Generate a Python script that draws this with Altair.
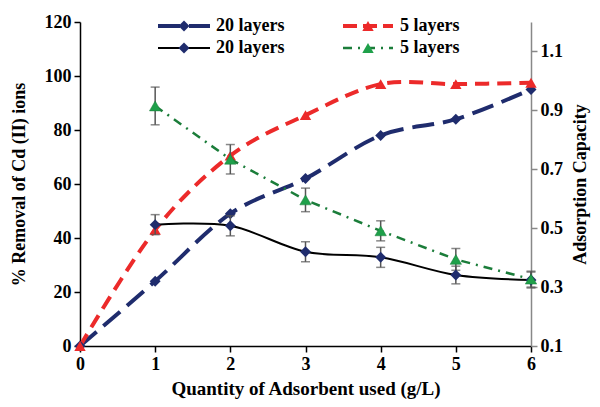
import altair as alt
import pandas as pd

# ---- data ----
x_all = [0, 1, 2, 3, 4, 5, 6]
removal_20 = [0, 24, 49, 62, 78, 84, 95]          # % removal, 20 layers (left axis)
removal_5 = [0, 43, 70.5, 85.5, 97, 97, 97.5]     # % removal, 5 layers (left axis)

x_cap = [1, 2, 3, 4, 5, 6]
cap_20 = [0.512, 0.508, 0.42, 0.401, 0.341, 0.324]   # adsorption capacity, 20 layers (right axis)
err_20 = [0.034, 0.034, 0.034, 0.034, 0.03, 0.027]
cap_5 = [0.915, 0.734, 0.596, 0.491, 0.394, 0.327]  # adsorption capacity, 5 layers (right axis)
err_5 = [0.064, 0.05, 0.04, 0.034, 0.037, 0.027]

left_ticks = [0, 20, 40, 60, 80, 100, 120]
right_ticks = [0.1, 0.3, 0.5, 0.7, 0.9, 1.1]
x_ticks = [0, 1, 2, 3, 4, 5, 6]
legend_labels = ["20 layers", "20 layers", "5 layers", "5 layers"]

NAVY = "#1f2c6d"
RED = "#ec2a2a"
GREEN_LINE = "#1b7d3a"
GREEN_FILL = "#1fa04a"
ERR = "#555555"
FONT = "Liberation Serif"

df_left = pd.DataFrame({"x": x_all, "r20": removal_20, "r5": removal_5})
df_right = pd.DataFrame({
    "x": x_cap,
    "c20": cap_20, "c20lo": [v - e for v, e in zip(cap_20, err_20)], "c20hi": [v + e for v, e in zip(cap_20, err_20)],
    "c5": cap_5, "c5lo": [v - e for v, e in zip(cap_5, err_5)], "c5hi": [v + e for v, e in zip(cap_5, err_5)],
})

xscale = alt.Scale(domain=[0, 6], nice=False)
xenc = alt.X("x:Q", scale=xscale,
             axis=alt.Axis(values=x_ticks, title="Quantity of Adsorbent used (g/L)", format="d",
                           titlePadding=6, labelFlush=False))

yleft_scale = alt.Scale(domain=[0, 120], nice=False)
yleft_axis = alt.Axis(values=left_ticks, title="% Removal of Cd (II) ions", titlePadding=16)


def YL(f, first=False):
    if first:
        return alt.Y(f + ":Q", scale=yleft_scale, axis=yleft_axis)
    return alt.Y(f + ":Q", scale=yleft_scale)


base_l = alt.Chart(df_left)
navy_line = base_l.mark_line(color=NAVY, strokeWidth=4, strokeDash=[22, 9], interpolate="cardinal").encode(
    x=xenc, y=YL("r20", True))
navy_pts = base_l.mark_point(shape="diamond", filled=True, color=NAVY, size=120, opacity=1).encode(
    x=alt.X("x:Q", scale=xscale), y=YL("r20"))
red_line = base_l.mark_line(color=RED, strokeWidth=4, strokeDash=[14, 8], interpolate="cardinal").encode(
    x=alt.X("x:Q", scale=xscale), y=YL("r5"))
red_pts = base_l.mark_point(shape="triangle-up", filled=True, color=RED, size=130, opacity=1).encode(
    x=alt.X("x:Q", scale=xscale), y=YL("r5"))
left = alt.layer(navy_line, red_line, navy_pts, red_pts)

yright_scale = alt.Scale(domain=[0.1, 1.2], nice=False, zero=False)
yright_axis = alt.Axis(values=right_ticks, format=".1f", title="Adsorption Capacity", orient="right",
                       domainColor="#888888", tickColor="#888888", titleAngle=270, titlePadding=27)


def YR(f, first=False):
    if first:
        return alt.Y(f + ":Q", scale=yright_scale, axis=yright_axis)
    return alt.Y(f + ":Q", scale=yright_scale)


XR = alt.X("x:Q", scale=xscale)
base_r = alt.Chart(df_right)
black_line = base_r.mark_line(color="black", strokeWidth=2, interpolate="cardinal").encode(
    x=XR, y=YR("c20", True))
green_line = base_r.mark_line(color=GREEN_LINE, strokeWidth=2.5, strokeDash=[9, 6, 2, 6]).encode(
    x=XR, y=YR("c5"))
err20 = base_r.mark_rule(color=ERR, strokeWidth=1.5).encode(x=XR, y=YR("c20lo"), y2="c20hi:Q")
err20lo = base_r.mark_tick(color=ERR, orient="horizontal", size=9, thickness=1.5).encode(x=XR, y=YR("c20lo"))
err20hi = base_r.mark_tick(color=ERR, orient="horizontal", size=9, thickness=1.5).encode(x=XR, y=YR("c20hi"))
err5 = base_r.mark_rule(color=ERR, strokeWidth=1.5).encode(x=XR, y=YR("c5lo"), y2="c5hi:Q")
err5lo = base_r.mark_tick(color=ERR, orient="horizontal", size=9, thickness=1.5).encode(x=XR, y=YR("c5lo"))
err5hi = base_r.mark_tick(color=ERR, orient="horizontal", size=9, thickness=1.5).encode(x=XR, y=YR("c5hi"))
black_pts = base_r.mark_point(shape="diamond", filled=True, color=NAVY, size=120, opacity=1).encode(
    x=XR, y=YR("c20"))
green_pts = base_r.mark_point(shape="triangle-up", filled=True, color=GREEN_FILL, size=130, opacity=1,
                              stroke=GREEN_LINE, strokeWidth=0.5).encode(x=XR, y=YR("c5"))

# ---- manual legend (pixel positions inside the plot area) ----
one = pd.DataFrame({"k": [0]})
lb = alt.Chart(one)
leg_navy = lb.mark_rule(color=NAVY, strokeWidth=4, strokeDash=[22, 9]).encode(
    x=alt.value(78), x2=alt.value(130), y=alt.value(4))
leg_navy_pt = lb.mark_point(shape="diamond", filled=True, color=NAVY, size=120, opacity=1).encode(
    x=alt.value(104), y=alt.value(4))
leg_black = lb.mark_rule(color="black", strokeWidth=2).encode(
    x=alt.value(78), x2=alt.value(130), y=alt.value(26))
leg_black_pt = lb.mark_point(shape="diamond", filled=True, color=NAVY, size=120, opacity=1).encode(
    x=alt.value(104), y=alt.value(26))
leg_red = lb.mark_rule(color=RED, strokeWidth=4, strokeDash=[14, 6]).encode(
    x=alt.value(263), x2=alt.value(313), y=alt.value(4))
leg_red_pt = lb.mark_point(shape="triangle-up", filled=True, color=RED, size=130, opacity=1).encode(
    x=alt.value(288), y=alt.value(4))
leg_green = lb.mark_rule(color=GREEN_LINE, strokeWidth=2.5, strokeDash=[9, 6, 2, 6]).encode(
    x=alt.value(263), x2=alt.value(313), y=alt.value(26))
leg_green_pt = lb.mark_point(shape="triangle-up", filled=True, color=GREEN_FILL, size=130, opacity=1).encode(
    x=alt.value(288), y=alt.value(26))

txt_kw = dict(align="left", baseline="middle", font=FONT, fontWeight="bold", fontSize=18, color="black")
leg_t1 = lb.mark_text(**txt_kw).encode(x=alt.value(136), y=alt.value(4), text=alt.value(legend_labels[0]))
leg_t2 = lb.mark_text(**txt_kw).encode(x=alt.value(136), y=alt.value(26), text=alt.value(legend_labels[1]))
leg_t3 = lb.mark_text(**txt_kw).encode(x=alt.value(320), y=alt.value(4), text=alt.value(legend_labels[2]))
leg_t4 = lb.mark_text(**txt_kw).encode(x=alt.value(320), y=alt.value(26), text=alt.value(legend_labels[3]))

right = alt.layer(err20, err20lo, err20hi, err5, err5lo, err5hi, black_line, green_line, black_pts, green_pts,
                  leg_navy, leg_navy_pt, leg_black, leg_black_pt, leg_red, leg_red_pt, leg_green, leg_green_pt,
                  leg_t1, leg_t2, leg_t3, leg_t4)

chart = alt.layer(left, right).resolve_scale(y="independent").properties(
    width=451, height=324,
    autosize=alt.AutoSizeParams(type="none"),
    padding={"left": 72, "top": 14, "right": 60, "bottom": 53},
).configure_view(stroke=None).configure_axis(
    grid=False, labelFont=FONT, labelFontWeight="bold", labelFontSize=18, labelColor="black",
    titleFont=FONT, titleFontWeight="bold", titleFontSize=18, titleColor="black",
    domainColor="black", domainWidth=1.5, tickColor="black", tickWidth=1.5, tickSize=6, labelPadding=3,
).configure_axisX(titleFontSize=19)

chart.save("out.html", embed_options={"renderer": "svg", "actions": False})
